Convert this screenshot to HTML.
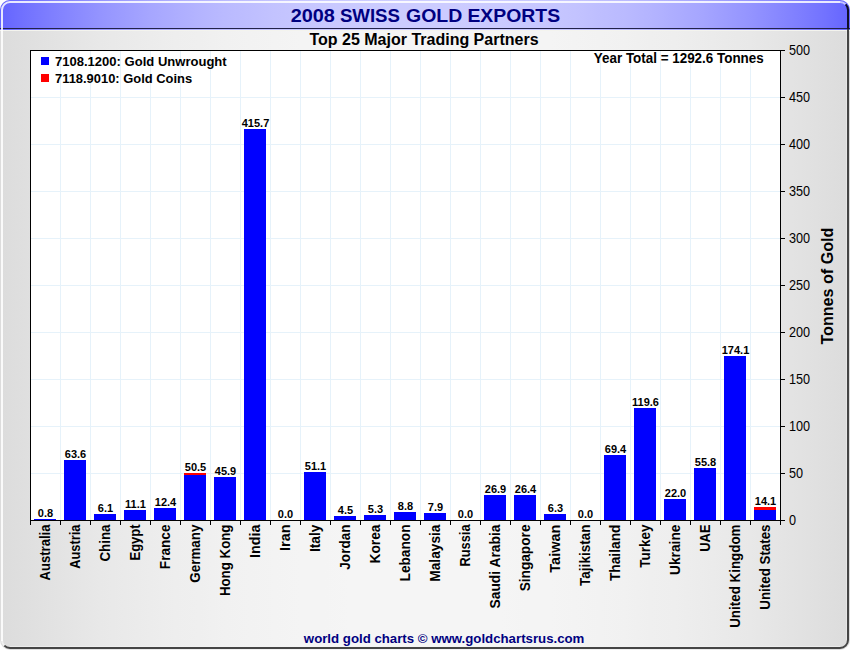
<!DOCTYPE html><html><head><meta charset="utf-8"><style>html,body{margin:0;padding:0;background:#fff;overflow:hidden}svg{display:block}text{font-family:"Liberation Sans",sans-serif}</style></head><body>
<svg width="850" height="650" viewBox="0 0 850 650">
<defs>
<linearGradient id="bg" x1="0" y1="0" x2="850" y2="0" gradientUnits="userSpaceOnUse"><stop offset="0.0000" stop-color="#dcdcdc"/><stop offset="0.0294" stop-color="#dfdfdf"/><stop offset="0.0588" stop-color="#e2e2e2"/><stop offset="0.0882" stop-color="#e5e5e5"/><stop offset="0.1176" stop-color="#e8e8e8"/><stop offset="0.1471" stop-color="#eaeaea"/><stop offset="0.1765" stop-color="#ececec"/><stop offset="0.2059" stop-color="#eeeeee"/><stop offset="0.2353" stop-color="#efefef"/><stop offset="0.2647" stop-color="#f1f1f1"/><stop offset="0.2941" stop-color="#f2f2f2"/><stop offset="0.3235" stop-color="#f3f3f3"/><stop offset="0.3529" stop-color="#f4f4f4"/><stop offset="0.3824" stop-color="#f4f4f4"/><stop offset="0.4118" stop-color="#f5f5f5"/><stop offset="0.4412" stop-color="#f5f5f5"/><stop offset="0.4706" stop-color="#f5f5f5"/><stop offset="0.5000" stop-color="#f5f5f5"/><stop offset="0.5294" stop-color="#f5f5f5"/><stop offset="0.5588" stop-color="#f5f5f5"/><stop offset="0.5882" stop-color="#f5f5f5"/><stop offset="0.6176" stop-color="#f4f4f4"/><stop offset="0.6471" stop-color="#f4f4f4"/><stop offset="0.6765" stop-color="#f3f3f3"/><stop offset="0.7059" stop-color="#f2f2f2"/><stop offset="0.7353" stop-color="#f1f1f1"/><stop offset="0.7647" stop-color="#efefef"/><stop offset="0.7941" stop-color="#eeeeee"/><stop offset="0.8235" stop-color="#ececec"/><stop offset="0.8529" stop-color="#eaeaea"/><stop offset="0.8824" stop-color="#e8e8e8"/><stop offset="0.9118" stop-color="#e5e5e5"/><stop offset="0.9412" stop-color="#e2e2e2"/><stop offset="0.9706" stop-color="#dfdfdf"/><stop offset="1.0000" stop-color="#dcdcdc"/></linearGradient>
<linearGradient id="tg" x1="0" y1="0" x2="850" y2="0" gradientUnits="userSpaceOnUse"><stop offset="0.0000" stop-color="#6464ff"/><stop offset="0.0294" stop-color="#7272ff"/><stop offset="0.0588" stop-color="#7e7eff"/><stop offset="0.0882" stop-color="#8989ff"/><stop offset="0.1176" stop-color="#9494ff"/><stop offset="0.1471" stop-color="#9d9dff"/><stop offset="0.1765" stop-color="#a6a6ff"/><stop offset="0.2059" stop-color="#adadff"/><stop offset="0.2353" stop-color="#b4b4ff"/><stop offset="0.2647" stop-color="#babaff"/><stop offset="0.2941" stop-color="#bebeff"/><stop offset="0.3235" stop-color="#c3c3ff"/><stop offset="0.3529" stop-color="#c6c6ff"/><stop offset="0.3824" stop-color="#c8c8ff"/><stop offset="0.4118" stop-color="#cacaff"/><stop offset="0.4412" stop-color="#cbcbff"/><stop offset="0.4706" stop-color="#ccccff"/><stop offset="0.5000" stop-color="#ccccff"/><stop offset="0.5294" stop-color="#ccccff"/><stop offset="0.5588" stop-color="#cbcbff"/><stop offset="0.5882" stop-color="#cacaff"/><stop offset="0.6176" stop-color="#c8c8ff"/><stop offset="0.6471" stop-color="#c6c6ff"/><stop offset="0.6765" stop-color="#c3c3ff"/><stop offset="0.7059" stop-color="#bebeff"/><stop offset="0.7353" stop-color="#babaff"/><stop offset="0.7647" stop-color="#b4b4ff"/><stop offset="0.7941" stop-color="#adadff"/><stop offset="0.8235" stop-color="#a6a6ff"/><stop offset="0.8529" stop-color="#9d9dff"/><stop offset="0.8824" stop-color="#9494ff"/><stop offset="0.9118" stop-color="#8989ff"/><stop offset="0.9412" stop-color="#7e7eff"/><stop offset="0.9706" stop-color="#7272ff"/><stop offset="1.0000" stop-color="#6464ff"/></linearGradient>
<clipPath id="frame"><rect x="0" y="0" width="850" height="650" rx="10" ry="10"/></clipPath>
</defs>
<g clip-path="url(#frame)">
<rect x="0" y="0" width="850" height="650" fill="url(#bg)"/>
<rect x="0" y="0" width="850" height="30" fill="url(#tg)"/>
<rect x="0" y="28" width="850" height="1" fill="#22224a"/>
<rect x="0" y="30" width="850" height="1" fill="#f4f4ee"/>
<path d="M2,641 L2,10 A8,8 0 0 1 10,2 L840,2" fill="none" stroke="#ffffff" stroke-width="2" stroke-opacity="0.85"/>
<path d="M840,2 A8,8 0 0 1 845.66,4.34" fill="none" stroke="#ffffff" stroke-width="2" stroke-opacity="0.6"/>
<path d="M2,640 A8,8 0 0 0 4.34,645.66" fill="none" stroke="#ffffff" stroke-width="2" stroke-opacity="0.6"/>
<path d="M845.66,4.34 A8,8 0 0 1 848,10 L848,29" fill="none" stroke="#101028" stroke-width="2"/>
<path d="M848,29 L848,640 A8,8 0 0 1 840,648 L10,648 A8,8 0 0 1 4.34,645.66" fill="none" stroke="#454545" stroke-width="2"/>
<rect x="10" y="646" width="830" height="1" fill="#f4f4f4" opacity="0.6"/>
<rect x="846" y="31" width="1" height="609" fill="#f0f0f0" opacity="0.5"/>
</g>
<rect x="30" y="50" width="750" height="470" fill="#ffffff"/>
<rect x="60" y="50" width="1" height="470" fill="#e6f2fa"/>
<rect x="90" y="50" width="1" height="470" fill="#e6f2fa"/>
<rect x="120" y="50" width="1" height="470" fill="#e6f2fa"/>
<rect x="150" y="50" width="1" height="470" fill="#e6f2fa"/>
<rect x="180" y="50" width="1" height="470" fill="#e6f2fa"/>
<rect x="210" y="50" width="1" height="470" fill="#e6f2fa"/>
<rect x="240" y="50" width="1" height="470" fill="#e6f2fa"/>
<rect x="270" y="50" width="1" height="470" fill="#e6f2fa"/>
<rect x="300" y="50" width="1" height="470" fill="#e6f2fa"/>
<rect x="330" y="50" width="1" height="470" fill="#e6f2fa"/>
<rect x="360" y="50" width="1" height="470" fill="#e6f2fa"/>
<rect x="390" y="50" width="1" height="470" fill="#e6f2fa"/>
<rect x="420" y="50" width="1" height="470" fill="#e6f2fa"/>
<rect x="450" y="50" width="1" height="470" fill="#e6f2fa"/>
<rect x="480" y="50" width="1" height="470" fill="#e6f2fa"/>
<rect x="510" y="50" width="1" height="470" fill="#e6f2fa"/>
<rect x="540" y="50" width="1" height="470" fill="#e6f2fa"/>
<rect x="570" y="50" width="1" height="470" fill="#e6f2fa"/>
<rect x="600" y="50" width="1" height="470" fill="#e6f2fa"/>
<rect x="630" y="50" width="1" height="470" fill="#e6f2fa"/>
<rect x="660" y="50" width="1" height="470" fill="#e6f2fa"/>
<rect x="690" y="50" width="1" height="470" fill="#e6f2fa"/>
<rect x="720" y="50" width="1" height="470" fill="#e6f2fa"/>
<rect x="750" y="50" width="1" height="470" fill="#e6f2fa"/>
<rect x="30" y="473" width="750" height="1" fill="#e6f2fa"/>
<rect x="30" y="426" width="750" height="1" fill="#e6f2fa"/>
<rect x="30" y="379" width="750" height="1" fill="#e6f2fa"/>
<rect x="30" y="332" width="750" height="1" fill="#e6f2fa"/>
<rect x="30" y="285" width="750" height="1" fill="#e6f2fa"/>
<rect x="30" y="238" width="750" height="1" fill="#e6f2fa"/>
<rect x="30" y="191" width="750" height="1" fill="#e6f2fa"/>
<rect x="30" y="144" width="750" height="1" fill="#e6f2fa"/>
<rect x="30" y="97" width="750" height="1" fill="#e6f2fa"/>
<rect x="34" y="519" width="22" height="1" fill="#0000ff"/>
<text x="45.5" y="517" text-anchor="middle" font-size="11" font-weight="bold" letter-spacing="0.0" fill="#000">0.8</text>
<rect x="64" y="460" width="22" height="60" fill="#0000ff"/>
<text x="75.5" y="458" text-anchor="middle" font-size="11" font-weight="bold" letter-spacing="0.0" fill="#000">63.6</text>
<rect x="94" y="514" width="22" height="6" fill="#0000ff"/>
<text x="105.5" y="512" text-anchor="middle" font-size="11" font-weight="bold" letter-spacing="0.0" fill="#000">6.1</text>
<rect x="124" y="510" width="22" height="10" fill="#0000ff"/>
<text x="135.5" y="508" text-anchor="middle" font-size="11" font-weight="bold" letter-spacing="0.0" fill="#000">11.1</text>
<rect x="154" y="508" width="22" height="12" fill="#0000ff"/>
<text x="165.5" y="506" text-anchor="middle" font-size="11" font-weight="bold" letter-spacing="0.0" fill="#000">12.4</text>
<rect x="184" y="473" width="22" height="47" fill="#0000ff"/>
<rect x="184" y="473" width="22" height="2" fill="#ff0000"/>
<text x="195.5" y="471" text-anchor="middle" font-size="11" font-weight="bold" letter-spacing="0.0" fill="#000">50.5</text>
<rect x="214" y="477" width="22" height="43" fill="#0000ff"/>
<text x="225.5" y="475" text-anchor="middle" font-size="11" font-weight="bold" letter-spacing="0.0" fill="#000">45.9</text>
<rect x="244" y="129" width="22" height="391" fill="#0000ff"/>
<text x="255.5" y="127" text-anchor="middle" font-size="11" font-weight="bold" letter-spacing="0.0" fill="#000">415.7</text>
<text x="285.5" y="518" text-anchor="middle" font-size="11" font-weight="bold" letter-spacing="0.0" fill="#000">0.0</text>
<rect x="304" y="472" width="22" height="48" fill="#0000ff"/>
<text x="315.5" y="470" text-anchor="middle" font-size="11" font-weight="bold" letter-spacing="0.0" fill="#000">51.1</text>
<rect x="334" y="516" width="22" height="4" fill="#0000ff"/>
<text x="345.5" y="514" text-anchor="middle" font-size="11" font-weight="bold" letter-spacing="0.0" fill="#000">4.5</text>
<rect x="364" y="515" width="22" height="5" fill="#0000ff"/>
<text x="375.5" y="513" text-anchor="middle" font-size="11" font-weight="bold" letter-spacing="0.0" fill="#000">5.3</text>
<rect x="394" y="512" width="22" height="8" fill="#0000ff"/>
<text x="405.5" y="510" text-anchor="middle" font-size="11" font-weight="bold" letter-spacing="0.0" fill="#000">8.8</text>
<rect x="424" y="513" width="22" height="7" fill="#0000ff"/>
<text x="435.5" y="511" text-anchor="middle" font-size="11" font-weight="bold" letter-spacing="0.0" fill="#000">7.9</text>
<text x="465.5" y="518" text-anchor="middle" font-size="11" font-weight="bold" letter-spacing="0.0" fill="#000">0.0</text>
<rect x="484" y="495" width="22" height="25" fill="#0000ff"/>
<text x="495.5" y="493" text-anchor="middle" font-size="11" font-weight="bold" letter-spacing="0.0" fill="#000">26.9</text>
<rect x="514" y="495" width="22" height="25" fill="#0000ff"/>
<text x="525.5" y="493" text-anchor="middle" font-size="11" font-weight="bold" letter-spacing="0.0" fill="#000">26.4</text>
<rect x="544" y="514" width="22" height="6" fill="#0000ff"/>
<text x="555.5" y="512" text-anchor="middle" font-size="11" font-weight="bold" letter-spacing="0.0" fill="#000">6.3</text>
<text x="585.5" y="518" text-anchor="middle" font-size="11" font-weight="bold" letter-spacing="0.0" fill="#000">0.0</text>
<rect x="604" y="455" width="22" height="65" fill="#0000ff"/>
<text x="615.5" y="453" text-anchor="middle" font-size="11" font-weight="bold" letter-spacing="0.0" fill="#000">69.4</text>
<rect x="634" y="408" width="22" height="112" fill="#0000ff"/>
<text x="645.5" y="406" text-anchor="middle" font-size="11" font-weight="bold" letter-spacing="0.0" fill="#000">119.6</text>
<rect x="664" y="499" width="22" height="21" fill="#0000ff"/>
<text x="675.5" y="497" text-anchor="middle" font-size="11" font-weight="bold" letter-spacing="0.0" fill="#000">22.0</text>
<rect x="694" y="468" width="22" height="52" fill="#0000ff"/>
<text x="705.5" y="466" text-anchor="middle" font-size="11" font-weight="bold" letter-spacing="0.0" fill="#000">55.8</text>
<rect x="724" y="356" width="22" height="164" fill="#0000ff"/>
<text x="735.5" y="354" text-anchor="middle" font-size="11" font-weight="bold" letter-spacing="0.0" fill="#000">174.1</text>
<rect x="754" y="507" width="22" height="13" fill="#0000ff"/>
<rect x="754" y="507" width="22" height="3" fill="#ff0000"/>
<text x="765.5" y="505" text-anchor="middle" font-size="11" font-weight="bold" letter-spacing="0.0" fill="#000">14.1</text>
<rect x="30" y="50" width="751" height="1" fill="#000"/>
<rect x="30" y="50" width="1" height="471" fill="#000"/>
<rect x="780" y="50" width="1" height="471" fill="#000"/>
<rect x="30" y="520" width="751" height="1" fill="#000"/>
<rect x="780" y="520" width="5" height="1" fill="#000"/>
<text transform="translate(789,525.1) scale(0.906,1)" font-size="14" fill="#000">0</text>
<rect x="780" y="473" width="5" height="1" fill="#000"/>
<text transform="translate(789,478.1) scale(0.906,1)" font-size="14" fill="#000">50</text>
<rect x="780" y="426" width="5" height="1" fill="#000"/>
<text transform="translate(789,431.1) scale(0.906,1)" font-size="14" fill="#000">100</text>
<rect x="780" y="379" width="5" height="1" fill="#000"/>
<text transform="translate(789,384.1) scale(0.906,1)" font-size="14" fill="#000">150</text>
<rect x="780" y="332" width="5" height="1" fill="#000"/>
<text transform="translate(789,337.1) scale(0.906,1)" font-size="14" fill="#000">200</text>
<rect x="780" y="285" width="5" height="1" fill="#000"/>
<text transform="translate(789,290.1) scale(0.906,1)" font-size="14" fill="#000">250</text>
<rect x="780" y="238" width="5" height="1" fill="#000"/>
<text transform="translate(789,243.1) scale(0.906,1)" font-size="14" fill="#000">300</text>
<rect x="780" y="191" width="5" height="1" fill="#000"/>
<text transform="translate(789,196.1) scale(0.906,1)" font-size="14" fill="#000">350</text>
<rect x="780" y="144" width="5" height="1" fill="#000"/>
<text transform="translate(789,149.1) scale(0.906,1)" font-size="14" fill="#000">400</text>
<rect x="780" y="97" width="5" height="1" fill="#000"/>
<text transform="translate(789,102.1) scale(0.906,1)" font-size="14" fill="#000">450</text>
<rect x="780" y="50" width="5" height="1" fill="#000"/>
<text transform="translate(789,55.1) scale(0.906,1)" font-size="14" fill="#000">500</text>
<rect x="30" y="520" width="1" height="5" fill="#000"/>
<rect x="60" y="520" width="1" height="5" fill="#000"/>
<rect x="90" y="520" width="1" height="5" fill="#000"/>
<rect x="120" y="520" width="1" height="5" fill="#000"/>
<rect x="150" y="520" width="1" height="5" fill="#000"/>
<rect x="180" y="520" width="1" height="5" fill="#000"/>
<rect x="210" y="520" width="1" height="5" fill="#000"/>
<rect x="240" y="520" width="1" height="5" fill="#000"/>
<rect x="270" y="520" width="1" height="5" fill="#000"/>
<rect x="300" y="520" width="1" height="5" fill="#000"/>
<rect x="330" y="520" width="1" height="5" fill="#000"/>
<rect x="360" y="520" width="1" height="5" fill="#000"/>
<rect x="390" y="520" width="1" height="5" fill="#000"/>
<rect x="420" y="520" width="1" height="5" fill="#000"/>
<rect x="450" y="520" width="1" height="5" fill="#000"/>
<rect x="480" y="520" width="1" height="5" fill="#000"/>
<rect x="510" y="520" width="1" height="5" fill="#000"/>
<rect x="540" y="520" width="1" height="5" fill="#000"/>
<rect x="570" y="520" width="1" height="5" fill="#000"/>
<rect x="600" y="520" width="1" height="5" fill="#000"/>
<rect x="630" y="520" width="1" height="5" fill="#000"/>
<rect x="660" y="520" width="1" height="5" fill="#000"/>
<rect x="690" y="520" width="1" height="5" fill="#000"/>
<rect x="720" y="520" width="1" height="5" fill="#000"/>
<rect x="750" y="520" width="1" height="5" fill="#000"/>
<rect x="780" y="520" width="1" height="5" fill="#000"/>
<text transform="translate(50.0,524.5) rotate(-90) scale(0.9367,1)" text-anchor="end" font-size="14" font-weight="bold" fill="#000">Australia</text>
<text transform="translate(80.0,524.5) rotate(-90) scale(0.9195,1)" text-anchor="end" font-size="14" font-weight="bold" fill="#000">Austria</text>
<text transform="translate(110.0,524.5) rotate(-90) scale(0.9534,1)" text-anchor="end" font-size="14" font-weight="bold" fill="#000">China</text>
<text transform="translate(140.0,524.5) rotate(-90) scale(0.926,1)" text-anchor="end" font-size="14" font-weight="bold" fill="#000">Egypt</text>
<text transform="translate(170.0,524.5) rotate(-90) scale(0.9731,1)" text-anchor="end" font-size="14" font-weight="bold" fill="#000">France</text>
<text transform="translate(200.0,524.5) rotate(-90) scale(0.959,1)" text-anchor="end" font-size="14" font-weight="bold" fill="#000">Germany</text>
<text transform="translate(230.0,524.5) rotate(-90) scale(0.9503,1)" text-anchor="end" font-size="14" font-weight="bold" fill="#000">Hong Kong</text>
<text transform="translate(260.0,524.5) rotate(-90) scale(1.0261,1)" text-anchor="end" font-size="14" font-weight="bold" fill="#000">India</text>
<text transform="translate(290.0,524.5) rotate(-90) scale(1.0326,1)" text-anchor="end" font-size="14" font-weight="bold" fill="#000">Iran</text>
<text transform="translate(320.0,524.5) rotate(-90) scale(0.9867,1)" text-anchor="end" font-size="14" font-weight="bold" fill="#000">Italy</text>
<text transform="translate(350.0,524.5) rotate(-90) scale(0.9684,1)" text-anchor="end" font-size="14" font-weight="bold" fill="#000">Jordan</text>
<text transform="translate(380.0,524.5) rotate(-90) scale(0.9825,1)" text-anchor="end" font-size="14" font-weight="bold" fill="#000">Korea</text>
<text transform="translate(410.0,524.5) rotate(-90) scale(0.9764,1)" text-anchor="end" font-size="14" font-weight="bold" fill="#000">Lebanon</text>
<text transform="translate(440.0,524.5) rotate(-90) scale(0.9799,1)" text-anchor="end" font-size="14" font-weight="bold" fill="#000">Malaysia</text>
<text transform="translate(470.0,524.5) rotate(-90) scale(0.9141,1)" text-anchor="end" font-size="14" font-weight="bold" fill="#000">Russia</text>
<text transform="translate(500.0,524.5) rotate(-90) scale(0.9891,1)" text-anchor="end" font-size="14" font-weight="bold" fill="#000">Saudi Arabia</text>
<text transform="translate(530.0,524.5) rotate(-90) scale(0.9775,1)" text-anchor="end" font-size="14" font-weight="bold" fill="#000">Singapore</text>
<text transform="translate(560.0,524.5) rotate(-90) scale(1.0393,1)" text-anchor="end" font-size="14" font-weight="bold" fill="#000">Taiwan</text>
<text transform="translate(590.0,524.5) rotate(-90) scale(0.9672,1)" text-anchor="end" font-size="14" font-weight="bold" fill="#000">Tajikistan</text>
<text transform="translate(620.0,524.5) rotate(-90) scale(0.9852,1)" text-anchor="end" font-size="14" font-weight="bold" fill="#000">Thailand</text>
<text transform="translate(650.0,524.5) rotate(-90) scale(0.9663,1)" text-anchor="end" font-size="14" font-weight="bold" fill="#000">Turkey</text>
<text transform="translate(680.0,524.5) rotate(-90) scale(0.9843,1)" text-anchor="end" font-size="14" font-weight="bold" fill="#000">Ukraine</text>
<text transform="translate(710.0,524.5) rotate(-90) scale(0.924,1)" text-anchor="end" font-size="14" font-weight="bold" fill="#000">UAE</text>
<text transform="translate(740.0,524.5) rotate(-90) scale(0.9565,1)" text-anchor="end" font-size="14" font-weight="bold" fill="#000">United Kingdom</text>
<text transform="translate(770.0,524.5) rotate(-90) scale(0.9537,1)" text-anchor="end" font-size="14" font-weight="bold" fill="#000">United States</text>
<text transform="translate(290.69,21.6) scale(1.0806,1)" font-size="18.4" font-weight="bold" fill="#000080">2008</text>
<text transform="translate(339.89,21.6) scale(1.0137,1)" font-size="18.4" font-weight="bold" fill="#000080">SWISS</text>
<text transform="translate(405.99,21.6) scale(1.0582,1)" font-size="18.4" font-weight="bold" fill="#000080">GOLD</text>
<text transform="translate(467.38,21.6) scale(1.0554,1)" font-size="18.4" font-weight="bold" fill="#000080">EXPORTS</text>
<text x="424" y="44.5" text-anchor="middle" font-size="16" font-weight="bold" fill="#000">Top 25 Major Trading Partners</text>
<text transform="translate(832.8,286.1) rotate(-90) scale(0.978,1)" text-anchor="middle" font-size="16.5" font-weight="bold" fill="#000">Tonnes of Gold</text>
<text transform="translate(444.1,642.7) scale(0.981,1)" text-anchor="middle" font-size="13.5" font-weight="bold" fill="#000080">world gold charts © www.goldchartsrus.com</text>
<rect x="41" y="57" width="8" height="8" fill="#0000ff"/>
<rect x="41" y="74" width="8" height="8" fill="#ff0000"/>
<text transform="translate(55,65.7) scale(0.966,1)" font-size="13.5" font-weight="bold" fill="#000">7108.1200: Gold Unwrought</text>
<text transform="translate(55,82.7) scale(0.958,1)" font-size="13.5" font-weight="bold" fill="#000">7118.9010: Gold Coins</text>
<text transform="translate(763.7,62.6) scale(0.959,1)" text-anchor="end" font-size="14" font-weight="bold" fill="#000">Year Total = 1292.6 Tonnes</text>
</svg></body></html>
